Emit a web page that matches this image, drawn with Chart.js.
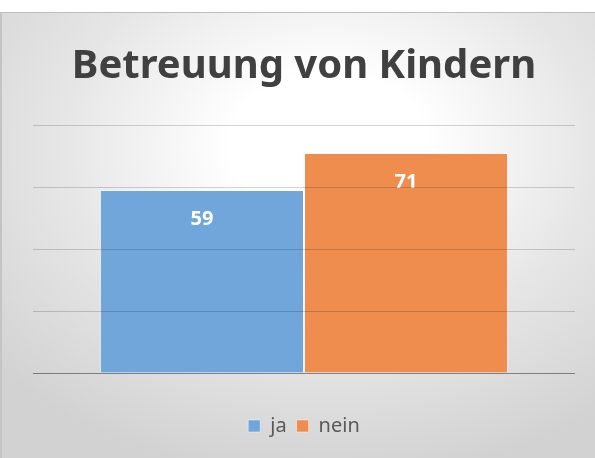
<!DOCTYPE html>
<html>
<head>
<meta charset="utf-8">
<script src="https://cdn.jsdelivr.net/npm/chart.js@4/dist/chart.umd.min.js"></script>
<style>
  html, body { margin: 0; padding: 0; width: 595px; height: 458px; background: #ffffff; overflow: hidden; }
  #bg {
    position: absolute; left: 0; top: 12px; width: 593px; height: 445px;
    border-top: 1px solid #bdbdbd; border-left: 2px solid #c4c4c4;
    background: radial-gradient(ellipse 75% 75% at 55% 30%, #ffffff 0%, #ffffff 22%, #e6e6e6 60%, #d2d2d2 100%);
  }
  #wrap { position: absolute; left: 0; top: 0; width: 595px; height: 458px; }
</style>
</head>
<body>
<div id="bg"></div>
<div id="wrap"><canvas id="c"></canvas></div>
<script>
const titleText = 'Betreuung von Kindern';
const categories = [''];
const seriesNames = ['ja', 'nein'];
const seriesValues = [[59], [71]];
const seriesColors = ['#70a6d9', '#ee8d4e'];
const yTicks = [0, 20, 40, 60, 80];

const valueLabels = {
  id: 'valueLabels',
  afterDatasetsDraw(chart) {
    const ctx = chart.ctx;
    ctx.save();
    ctx.fillStyle = '#ffffff';
    ctx.font = 'bold 20px "Noto Sans"';
    ctx.textAlign = 'center';
    ctx.textBaseline = 'middle';
    chart.data.datasets.forEach((ds, i) => {
      chart.getDatasetMeta(i).data.forEach((el, j) => {
        ctx.fillText(String(ds.data[j]), el.x, el.y + 29);
      });
    });
    ctx.restore();
  }
};

new Chart(document.getElementById('c'), {
  type: 'bar',
  data: {
    labels: categories,
    datasets: seriesNames.map((n, i) => ({
      label: n,
      data: seriesValues[i],
      backgroundColor: seriesColors[i],
      borderColor: 'rgba(255,255,255,0.45)',
      borderWidth: 1,
      categoryPercentage: 0.753,
      barPercentage: 1.0
    }))
  },
  options: {
    responsive: true,
    maintainAspectRatio: false,
    animation: false,
    devicePixelRatio: 1,
    layout: { padding: { left: 33, right: 20, top: 12, bottom: 12 } },
    plugins: {
      title: {
        display: true,
        text: titleText,
        color: '#404040',
        font: { family: "'Noto Sans'", size: 40, weight: 'bold', lineHeight: 1.2 },
        padding: { top: 31, bottom: 34 }
      },
      legend: {
        display: true,
        position: 'bottom',
        labels: {
          color: '#595959',
          font: { family: "'Noto Sans'", size: 20 },
          boxWidth: 12,
          boxHeight: 12,
          padding: 10
        }
      },
      tooltip: { enabled: false }
    },
    scales: {
      x: {
        display: true,
        grid: { display: false },
        border: { display: false },
        ticks: { display: false },
        afterFit(scale) { scale.height = 33; }
      },
      y: {
        min: 0,
        max: 80,
        afterBuildTicks(scale) { scale.ticks = yTicks.map(v => ({ value: v })); },
        ticks: { display: false },
        border: { display: false },
        grid: {
          z: 1,
          drawTicks: false,
          lineWidth: 1,
          color: (c) => c.tick && c.tick.value === 0 ? 'rgba(0,0,0,0.42)' : 'rgba(0,0,0,0.17)'
        }
      }
    }
  },
  plugins: [valueLabels]
});
</script>
</body>
</html>
